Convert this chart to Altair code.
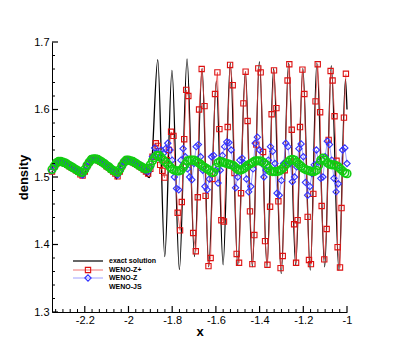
import altair as alt
import pandas as pd

FONT = "Liberation Sans"

# ---------------- data ----------------
exact_x = [-2.35, -2.33, -2.32, -2.28, -2.24, -2.215, -2.205, -2.195, -2.18, -2.16, -2.13, -2.09,
           -2.065, -2.055, -2.045, -2.03, -2.01, -1.97, -1.94, -1.92, -1.905, -1.895,
           -1.866, -1.834, -1.801, -1.767, -1.732, -1.698, -1.663, -1.633, -1.598, -1.567,
           -1.534, -1.500, -1.465, -1.433, -1.401, -1.366, -1.336, -1.301, -1.267, -1.235,
           -1.202, -1.168, -1.138, -1.102, -1.072, -1.037, -1.007, -1.0]
exact_y = [1.507, 1.521, 1.524, 1.520, 1.511, 1.505, 1.500, 1.512, 1.522, 1.528, 1.525, 1.515,
           1.506, 1.497, 1.510, 1.520, 1.526, 1.521, 1.512, 1.504, 1.499, 1.515,
           1.674, 1.382, 1.658, 1.363, 1.675, 1.382, 1.661, 1.367, 1.642, 1.370,
           1.669, 1.369, 1.656, 1.367, 1.671, 1.367, 1.661, 1.357, 1.669, 1.369,
           1.661, 1.362, 1.669, 1.367, 1.665, 1.362, 1.645, 1.600]

grid_x = [
    -2.35, -2.34, -2.33, -2.32, -2.31, -2.30, -2.29, -2.28, -2.27, -2.26,
    -2.25, -2.24, -2.23, -2.22, -2.21, -2.20, -2.19, -2.18, -2.17, -2.16,
    -2.15, -2.14, -2.13, -2.12, -2.11, -2.10, -2.09, -2.08, -2.07, -2.06,
    -2.05, -2.04, -2.03, -2.02, -2.01, -2.00, -1.99, -1.98, -1.97, -1.96,
    -1.95, -1.94, -1.93, -1.92, -1.91, -1.90, -1.89, -1.88, -1.87, -1.86,
    -1.85, -1.84, -1.83, -1.82, -1.81, -1.80, -1.79, -1.78, -1.77, -1.76,
    -1.75, -1.74, -1.73, -1.72, -1.71, -1.70, -1.69, -1.68, -1.67, -1.66,
    -1.65, -1.64, -1.63, -1.62, -1.61, -1.60, -1.59, -1.58, -1.57, -1.56,
    -1.55, -1.54, -1.53, -1.52, -1.51, -1.50, -1.49, -1.48, -1.47, -1.46,
    -1.45, -1.44, -1.43, -1.42, -1.41, -1.40, -1.39, -1.38, -1.37, -1.36,
    -1.35, -1.34, -1.33, -1.32, -1.31, -1.30, -1.29, -1.28, -1.27, -1.26,
    -1.25, -1.24, -1.23, -1.22, -1.21, -1.20, -1.19, -1.18, -1.17, -1.16,
    -1.15, -1.14, -1.13, -1.12, -1.11, -1.10, -1.09, -1.08, -1.07, -1.06,
    -1.05, -1.04, -1.03, -1.02, -1.01, -1.00]

weno_js_y = [
    1.511, 1.516, 1.521, 1.523, 1.523, 1.522, 1.521, 1.519, 1.517, 1.515,
    1.513, 1.511, 1.509, 1.507, 1.507, 1.511, 1.517, 1.522, 1.526, 1.527,
    1.527, 1.526, 1.524, 1.522, 1.520, 1.517, 1.515, 1.512, 1.510, 1.508,
    1.507, 1.511, 1.517, 1.522, 1.525, 1.525, 1.524, 1.523, 1.521, 1.519,
    1.517, 1.515, 1.513, 1.512, 1.513, 1.518, 1.524, 1.529, 1.532, 1.532,
    1.529, 1.525, 1.522, 1.519, 1.515, 1.512, 1.510, 1.509, 1.509, 1.510,
    1.514, 1.519, 1.524, 1.525, 1.525, 1.525, 1.523, 1.521, 1.519, 1.516,
    1.514, 1.512, 1.510, 1.507, 1.507, 1.514, 1.521, 1.523, 1.522, 1.521,
    1.520, 1.519, 1.518, 1.517, 1.514, 1.511, 1.510, 1.511, 1.513, 1.516,
    1.518, 1.520, 1.522, 1.524, 1.524, 1.524, 1.523, 1.521, 1.518, 1.513,
    1.509, 1.508, 1.508, 1.508, 1.509, 1.511, 1.514, 1.518, 1.522, 1.525,
    1.526, 1.525, 1.522, 1.519, 1.516, 1.513, 1.511, 1.510, 1.509, 1.508,
    1.508, 1.510, 1.517, 1.525, 1.528, 1.525, 1.521, 1.519, 1.518, 1.518,
    1.517, 1.515, 1.512, 1.509, 1.506, 1.505]

weno_z_y = [
    1.509, 1.515, 1.520, 1.522, 1.522, 1.521, 1.520, 1.518, 1.516, 1.514,
    1.512, 1.510, 1.508, 1.505, 1.503, 1.509, 1.516, 1.521, 1.525, 1.526,
    1.526, 1.525, 1.523, 1.521, 1.519, 1.516, 1.514, 1.511, 1.509, 1.506,
    1.503, 1.509, 1.516, 1.521, 1.524, 1.524, 1.523, 1.522, 1.520, 1.518,
    1.516, 1.514, 1.512, 1.509, 1.508, 1.514, 1.530, 1.543, 1.535, 1.528,
    1.540, 1.535, 1.542, 1.550, 1.540, 1.525, 1.500, 1.483, 1.481, 1.525,
    1.542, 1.530, 1.512, 1.500, 1.496, 1.520, 1.545, 1.548, 1.530, 1.510,
    1.486, 1.481, 1.497, 1.530, 1.532, 1.510, 1.491, 1.510, 1.532, 1.545,
    1.552, 1.551, 1.540, 1.515, 1.484, 1.500, 1.525, 1.528, 1.520, 1.497,
    1.478, 1.486, 1.512, 1.550, 1.559, 1.540, 1.520, 1.500, 1.510, 1.525,
    1.545, 1.538, 1.520, 1.476, 1.473, 1.495, 1.520, 1.550, 1.545, 1.520,
    1.493, 1.500, 1.515, 1.542, 1.549, 1.530, 1.492, 1.473, 1.486, 1.505,
    1.518, 1.540, 1.522, 1.498, 1.500, 1.530, 1.553, 1.548, 1.525, 1.498,
    1.478, 1.490, 1.515, 1.540, 1.543, 1.520]

zplus_x_smooth = [
    -2.35, -2.34, -2.33, -2.32, -2.31, -2.30, -2.29, -2.28, -2.27, -2.26,
    -2.25, -2.24, -2.23, -2.22, -2.21, -2.20, -2.19, -2.18, -2.17, -2.16,
    -2.15, -2.14, -2.13, -2.12, -2.11, -2.10, -2.09, -2.08, -2.07, -2.06,
    -2.05, -2.04, -2.03, -2.02, -2.01, -2.00, -1.99, -1.98, -1.97, -1.96,
    -1.95, -1.94, -1.93, -1.92, -1.91, -1.90, -1.89]
zplus_y_smooth = [
    1.508, 1.515, 1.520, 1.523, 1.523, 1.522, 1.520, 1.518, 1.516, 1.514,
    1.512, 1.510, 1.508, 1.504, 1.502, 1.508, 1.516, 1.522, 1.526, 1.527,
    1.527, 1.525, 1.523, 1.521, 1.519, 1.516, 1.514, 1.511, 1.508, 1.505,
    1.501, 1.508, 1.516, 1.522, 1.525, 1.525, 1.524, 1.522, 1.520, 1.518,
    1.516, 1.514, 1.511, 1.508, 1.505, 1.512, 1.530]
zplus_x_wave = [
    -1.875, -1.866, -1.855, -1.845, -1.835, -1.825, -1.815, -1.805, -1.794, -1.775,
    -1.764, -1.756, -1.745, -1.736, -1.726, -1.704, -1.692, -1.683, -1.677, -1.665,
    -1.652, -1.647, -1.634, -1.624, -1.616, -1.604, -1.593, -1.584, -1.575, -1.563,
    -1.546, -1.535, -1.523, -1.515, -1.505, -1.494, -1.485, -1.474, -1.464, -1.455,
    -1.444, -1.433, -1.424, -1.415, -1.406, -1.395, -1.384, -1.375, -1.364, -1.352,
    -1.345, -1.334, -1.323, -1.314, -1.304, -1.294, -1.285, -1.272, -1.264, -1.253,
    -1.242, -1.233, -1.226, -1.215, -1.204, -1.195, -1.180, -1.174, -1.165, -1.154,
    -1.144, -1.134, -1.123, -1.116, -1.104, -1.093, -1.084, -1.075, -1.066, -1.057,
    -1.048, -1.043, -1.032, -1.025, -1.014, -1.005]
zplus_y_wave = [
    1.550, 1.546, 1.518, 1.509, 1.499, 1.525, 1.540, 1.567, 1.561, 1.447,
    1.421, 1.463, 1.556, 1.629, 1.620, 1.417, 1.390, 1.470, 1.600, 1.660,
    1.605, 1.472, 1.368, 1.380, 1.497, 1.623, 1.655, 1.571, 1.436, 1.434,
    1.574, 1.666, 1.636, 1.506, 1.386, 1.373, 1.476, 1.609, 1.656, 1.583,
    1.449, 1.371, 1.414, 1.548, 1.661, 1.655, 1.537, 1.405, 1.370, 1.456,
    1.593, 1.658, 1.602, 1.464, 1.365, 1.383, 1.510, 1.643, 1.667, 1.570,
    1.430, 1.373, 1.436, 1.574, 1.659, 1.623, 1.441, 1.377, 1.371, 1.475,
    1.612, 1.667, 1.596, 1.457, 1.378, 1.423, 1.555, 1.657, 1.643, 1.590,
    1.524, 1.396, 1.366, 1.454, 1.588, 1.653]

x_major = [-2.2, -2.0, -1.8, -1.6, -1.4, -1.2, -1.0]
x_minor = [-2.3333, -2.3, -2.2667, -2.2333,
           -2.1667, -2.1333, -2.1, -2.0667, -2.0333,
           -1.9667, -1.9333, -1.9, -1.8667, -1.8333,
           -1.7667, -1.7333, -1.7, -1.6667, -1.6333,
           -1.5667, -1.5333, -1.5, -1.4667, -1.4333,
           -1.3667, -1.3333, -1.3, -1.2667, -1.2333,
           -1.1667, -1.1333, -1.1, -1.0667, -1.0333]
y_major = [1.3, 1.4, 1.5, 1.6, 1.7]
y_minor = [1.32, 1.34, 1.36, 1.38, 1.42, 1.44, 1.46, 1.48,
           1.52, 1.54, 1.56, 1.58, 1.62, 1.64, 1.66, 1.68]

legend_labels = ["exact solution", "WENO-Z+", "WENO-Z", "WENO-JS"]

# ---------------- chart ----------------
W, H = 295, 270
xs = alt.Scale(domain=[-2.35, -1.0], nice=False, zero=False)
ys = alt.Scale(domain=[1.3, 1.7], nice=False, zero=False)

RED = "#dd1111"
RED_LINE = "#ee4444"
BLUE = "#3333ff"
BLUE_LINE = "#7777ff"
GREEN = "#11cc11"

exact_df = pd.DataFrame({"x": exact_x, "y": exact_y})
grid_df = pd.DataFrame({"x": grid_x, "js": weno_js_y, "z": weno_z_y})
zplus_df = pd.DataFrame({"x": zplus_x_smooth + zplus_x_wave,
                         "y": zplus_y_smooth + zplus_y_wave})

x_axis = alt.Axis(values=x_major, labelExpr="toString(datum.value)", ticks=False, grid=False,
                  domainColor="black", domainWidth=1, labelFont=FONT, labelFontSize=11,
                  labelColor="black", labelPadding=2, title="x", titleFont=FONT,
                  titleFontSize=13, titleFontWeight="bold", titleColor="black",
                  titlePadding=0, labelFlush=False)
y_axis = alt.Axis(values=y_major, labelExpr="toString(datum.value)", ticks=False, grid=False,
                  domainColor="black", domainWidth=1, labelFont=FONT, labelFontSize=11,
                  labelColor="black", labelPadding=3, title="density", titleFont=FONT,
                  titleFontSize=13, titleFontWeight="bold", titleColor="black",
                  titlePadding=3)


def X(field):
    return alt.X(field, scale=xs, axis=x_axis)


def Y(field):
    return alt.Y(field, scale=ys, axis=y_axis)


exact = alt.Chart(exact_df).mark_line(color="black", strokeWidth=1.3, interpolate="monotone").encode(
    x=X("x:Q"), y=Y("y:Q"))

zp_line = alt.Chart(zplus_df).mark_line(color=RED_LINE, strokeWidth=1, opacity=0.75).encode(
    x=X("x:Q"), y=Y("y:Q"))
zp_pts = alt.Chart(zplus_df).mark_point(shape="square", filled=False, color=RED, size=28,
                                        strokeWidth=1.1, opacity=1).encode(
    x=X("x:Q"), y=Y("y:Q"))

z_line = alt.Chart(grid_df).mark_line(color=BLUE_LINE, strokeWidth=1, opacity=0.7).encode(
    x=X("x:Q"), y=Y("z:Q"))
z_pts = alt.Chart(grid_df).mark_point(shape="diamond", filled=False, color=BLUE, size=40,
                                      strokeWidth=1.1, opacity=1).encode(
    x=X("x:Q"), y=Y("z:Q"))

js_pts = alt.Chart(grid_df).mark_point(shape="circle", filled=False, color=GREEN, size=58,
                                       strokeWidth=1.6, opacity=1).encode(
    x=X("x:Q"), y=Y("js:Q"))

# inward ticks
xmaj_df = pd.DataFrame({"x": x_major})
xmin_df = pd.DataFrame({"x": x_minor})
ymaj_df = pd.DataFrame({"y": y_major})
ymin_df = pd.DataFrame({"y": y_minor})
xt_major = alt.Chart(xmaj_df).mark_rule(color="black", strokeWidth=1.2).encode(
    x=X("x:Q"), y=alt.value(H), y2=alt.value(H - 6))
xt_minor = alt.Chart(xmin_df).mark_rule(color="black", strokeWidth=1).encode(
    x=X("x:Q"), y=alt.value(H), y2=alt.value(H - 3))
yt_major = alt.Chart(ymaj_df).mark_rule(color="black", strokeWidth=1.2).encode(
    y=Y("y:Q"), x=alt.value(0), x2=alt.value(6))
yt_minor = alt.Chart(ymin_df).mark_rule(color="black", strokeWidth=1).encode(
    y=Y("y:Q"), x=alt.value(0), x2=alt.value(3))

# manual legend (pixel positions inside the plot)
row_y = [219, 228, 236, 245]
lx0, lx1, lmark, ltext = 21, 51, 36, 57
one = pd.DataFrame({"k": [0]})
legend_layers = []
legend_layers.append(alt.Chart(one).mark_rule(color="black", strokeWidth=1.2).encode(
    x=alt.value(lx0), x2=alt.value(lx1), y=alt.value(row_y[0])))
legend_layers.append(alt.Chart(one).mark_rule(color=RED_LINE, strokeWidth=1, opacity=0.75).encode(
    x=alt.value(lx0), x2=alt.value(lx1), y=alt.value(row_y[1])))
legend_layers.append(alt.Chart(one).mark_point(shape="square", filled=False, color=RED, size=28,
                                               strokeWidth=1.1, opacity=1).encode(
    x=alt.value(lmark), y=alt.value(row_y[1])))
legend_layers.append(alt.Chart(one).mark_rule(color=BLUE_LINE, strokeWidth=1, opacity=0.7).encode(
    x=alt.value(lx0), x2=alt.value(lx1), y=alt.value(row_y[2])))
legend_layers.append(alt.Chart(one).mark_point(shape="diamond", filled=False, color=BLUE, size=40,
                                               strokeWidth=1.1, opacity=1).encode(
    x=alt.value(lmark), y=alt.value(row_y[2])))
for lab, yy in zip(legend_labels, row_y):
    legend_layers.append(alt.Chart(pd.DataFrame({"t": [lab]})).mark_text(
        align="left", baseline="middle", font=FONT, fontSize=7, fontWeight="bold", color="black"
    ).encode(x=alt.value(ltext), y=alt.value(yy), text="t:N"))

chart = alt.layer(
    exact, zp_line, zp_pts, z_line, z_pts, js_pts,
    xt_major, xt_minor, yt_major, yt_minor, *legend_layers
).properties(
    width=W, height=H,
    background="white",
    autosize=alt.AutoSizeParams(type="none"),
    padding={"left": 44, "top": 34, "right": 30, "bottom": 30},
).configure_view(stroke=None)

chart.save("out.html", embed_options={"renderer": "svg", "actions": False})
